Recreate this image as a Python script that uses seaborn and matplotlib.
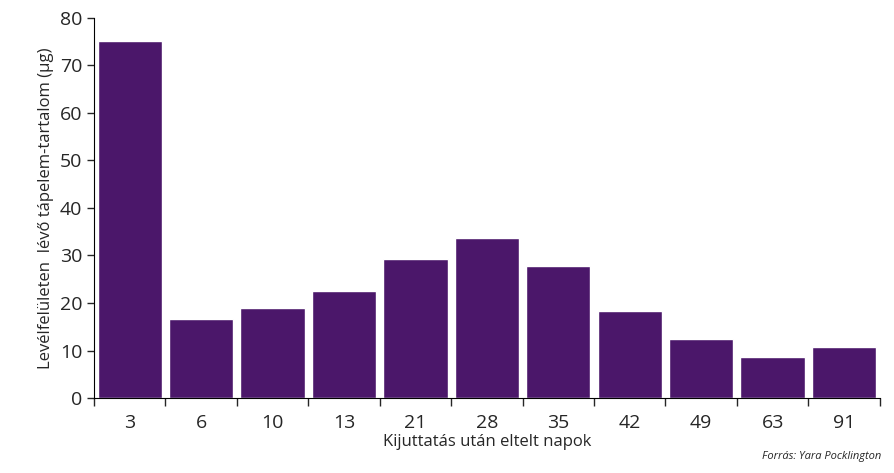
import matplotlib
matplotlib.use("Agg")
import matplotlib.pyplot as plt
import seaborn as sns
import numpy as np

days = ["3", "6", "10", "13", "21", "28", "35", "42", "49", "63", "91"]
values = [75.0, 16.6, 18.9, 22.5, 29.3, 33.7, 27.8, 18.3, 12.4, 8.6, 10.7]

sns.set_style("white")
plt.rcParams['font.family'] = ['Open Sans', 'DejaVu Sans']

fig = plt.figure(figsize=(8.95, 4.73), dpi=100)
ax = fig.add_axes([0.105, 0.158, 0.878, 0.805])
sns.barplot(x=days, y=values, color="#4B176A", saturation=1, width=0.9, ax=ax)
ax.set_xlim(-0.5, len(days) - 0.5)
ax.set_ylim(0, 80)
ax.set_yticks(range(0, 81, 10))
ax.tick_params(axis='y', labelsize=14, direction='out', length=5, left=True, width=1)
ax.tick_params(axis='x', labelsize=14, bottom=False, pad=8)
ax.set_xticks(np.arange(-0.5, len(days), 1), minor=True)
ax.tick_params(axis='x', which='minor', bottom=True, direction='out', length=6, width=1)
for s in ["top", "right"]:
    ax.spines[s].set_visible(False)
for s in ["left", "bottom"]:
    ax.spines[s].set_color("black")
ax.set_xlabel("Kijuttatás után eltelt napok", fontsize=12, labelpad=1)
ax.set_ylabel("Levélfelületen  lévő tápelem-tartalom (µg)", fontsize=12)
fig.text(0.985, 0.03, "Forrás: Yara Pocklington", ha="right", fontsize=8, style="italic")
fig.savefig("out.png", dpi=100)
